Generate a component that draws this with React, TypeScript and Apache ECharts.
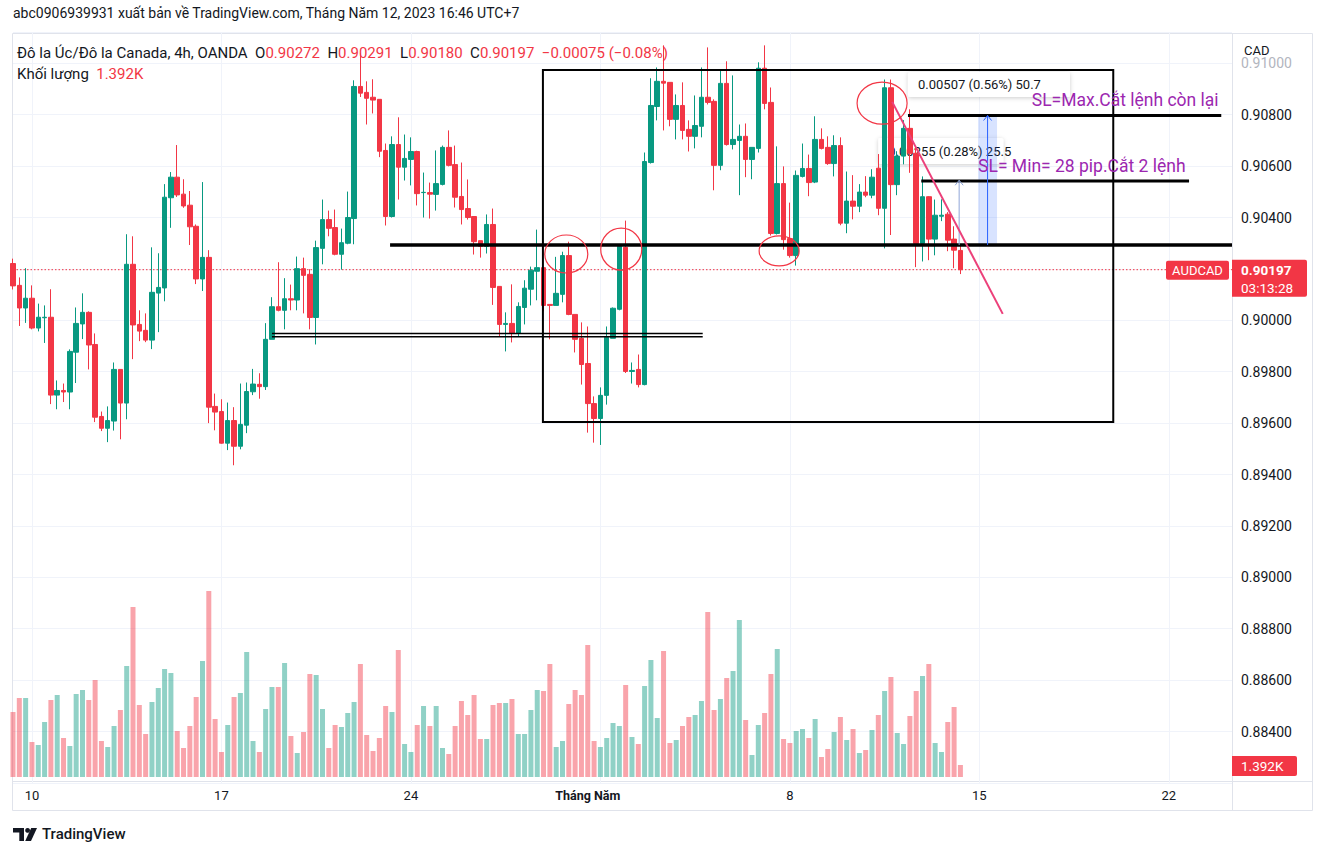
import React, { useEffect, useRef } from "react";
import * as echarts from "echarts";

// ---------- DATA ----------
const candleOpen = [
  0.90221, 0.90136, 0.90048, 0.90086, 0.8997, 0.9001, 0.90012, 0.89709, 0.89727, 0.89721,
  0.89876, 0.89986, 0.90031, 0.89906, 0.89626, 0.8958, 0.89608, 0.89809, 0.89678, 0.90218,
  0.89984, 0.89961, 0.89923, 0.90106, 0.90126, 0.90477, 0.90557, 0.90491, 0.90448, 0.90366,
  0.90161, 0.90245, 0.89665, 0.89645, 0.89522, 0.8961, 0.8951, 0.89592, 0.89722, 0.89751,
  0.89742, 0.89926, 0.90053, 0.90039, 0.90084, 0.90079, 0.90201, 0.90179, 0.90011, 0.9028,
  0.90392, 0.90361, 0.90257, 0.903, 0.90396, 0.9091, 0.90887, 0.90868, 0.9086, 0.90661,
  0.90404, 0.90684, 0.90596, 0.90626, 0.90657, 0.90497, 0.90497, 0.9049, 0.90529, 0.90673,
  0.90606, 0.90482, 0.90435, 0.90404, 0.9031, 0.90288, 0.90373, 0.90132, 0.89984, 0.89988,
  0.89949, 0.9005, 0.90121, 0.90191, 0.90205, 0.90062, 0.90058, 0.90101, 0.90252, 0.90023,
  0.8993, 0.89832, 0.89676, 0.89618, 0.89708, 0.8993, 0.90043, 0.90284, 0.89801, 0.89809,
  0.8975, 0.90614, 0.90832, 0.9093, 0.90926, 0.90782, 0.90836, 0.90743, 0.90716, 0.90755,
  0.90868, 0.90852, 0.90603, 0.90922, 0.90684, 0.907, 0.90716, 0.90626, 0.90669, 0.90981,
  0.90848, 0.90338, 0.90532, 0.90318, 0.90252, 0.9056, 0.90591, 0.90538, 0.90704, 0.90673,
  0.9061, 0.9068, 0.90378, 0.90464, 0.90444, 0.90499, 0.90487, 0.90592, 0.90436, 0.90905,
  0.90528, 0.90639, 0.90747, 0.9065, 0.90299, 0.90481, 0.90316, 0.90405, 0.90413, 0.90316, 0.90272,
];
const candleClose = [
  0.90134, 0.90048, 0.90086, 0.8997, 0.90012, 0.90012, 0.89709, 0.89727, 0.89721, 0.89879,
  0.89988, 0.90031, 0.89904, 0.89623, 0.8958, 0.8961, 0.89809, 0.89678, 0.90218, 0.89982,
  0.89958, 0.89923, 0.90109, 0.90128, 0.90479, 0.90557, 0.90488, 0.90445, 0.90364, 0.90161,
  0.90245, 0.89662, 0.89643, 0.89522, 0.8961, 0.8951, 0.89595, 0.89723, 0.89752, 0.89742,
  0.89926, 0.90053, 0.90039, 0.90084, 0.90079, 0.90201, 0.90175, 0.90011, 0.90283, 0.90392,
  0.90358, 0.90257, 0.90302, 0.904, 0.9091, 0.90884, 0.90864, 0.90857, 0.90658, 0.90404,
  0.90684, 0.90596, 0.9063, 0.90657, 0.90493, 0.90498, 0.90491, 0.90532, 0.90673, 0.90603,
  0.90479, 0.90431, 0.904, 0.90306, 0.90288, 0.90373, 0.90128, 0.89984, 0.89988, 0.89949,
  0.90054, 0.90125, 0.90195, 0.90205, 0.90058, 0.90058, 0.90105, 0.90252, 0.90023, 0.89926,
  0.89828, 0.89676, 0.89618, 0.89708, 0.89934, 0.90047, 0.90288, 0.89801, 0.89805, 0.8975,
  0.90618, 0.90836, 0.9093, 0.90923, 0.90782, 0.90836, 0.90739, 0.90716, 0.90758, 0.90868,
  0.90848, 0.90603, 0.90922, 0.90684, 0.90704, 0.90716, 0.90626, 0.90673, 0.90981, 0.90844,
  0.90338, 0.90532, 0.90314, 0.90252, 0.90564, 0.90591, 0.90536, 0.90704, 0.90669, 0.9061,
  0.9068, 0.90378, 0.90464, 0.90444, 0.90499, 0.90487, 0.90557, 0.90436, 0.90905, 0.90528,
  0.90639, 0.90747, 0.9065, 0.90299, 0.90481, 0.90316, 0.90409, 0.90409, 0.90312, 0.90273, 0.90197,
];
const candleLow = [
  0.9012, 0.89978, 0.8999, 0.89965, 0.89957, 0.89912, 0.89674, 0.89654, 0.89682, 0.89654,
  0.89756, 0.89927, 0.89809, 0.89604, 0.89569, 0.89526, 0.89571, 0.89537, 0.89615, 0.89849,
  0.89919, 0.89915, 0.89888, 0.89954, 0.90074, 0.9036, 0.9048, 0.90438, 0.90293, 0.90141,
  0.90114, 0.896, 0.89572, 0.8952, 0.89495, 0.89436, 0.89498, 0.89561, 0.89709, 0.89695,
  0.89729, 0.89926, 0.90035, 0.89965, 0.90039, 0.90039, 0.90027, 0.89965, 0.89906, 0.90218,
  0.90327, 0.90253, 0.90197, 0.90296, 0.90296, 0.90869, 0.90762, 0.90805, 0.90635, 0.90369,
  0.904, 0.9047, 0.90544, 0.90525, 0.90447, 0.904, 0.90396, 0.90427, 0.90525, 0.90599,
  0.90439, 0.90373, 0.90392, 0.90256, 0.90244, 0.9026, 0.9006, 0.89937, 0.89879, 0.89914,
  0.89937, 0.89984, 0.90058, 0.90078, 0.90035, 0.89926, 0.90058, 0.9007, 0.9002, 0.89875,
  0.8975, 0.89563, 0.89524, 0.89515, 0.89672, 0.8993, 0.90039, 0.89795, 0.89754, 0.89739,
  0.89747, 0.9061, 0.90778, 0.90739, 0.90755, 0.90704, 0.90704, 0.90657, 0.90669, 0.90712,
  0.9084, 0.90506, 0.90584, 0.9068, 0.90665, 0.90487, 0.90557, 0.90549, 0.90653, 0.90821,
  0.9033, 0.90334, 0.90275, 0.90244, 0.90213, 0.90556, 0.90483, 0.90534, 0.90665, 0.90605,
  0.9056, 0.9037, 0.90339, 0.90393, 0.90421, 0.90479, 0.90475, 0.90409, 0.9028, 0.90332,
  0.90487, 0.90607, 0.90574, 0.90207, 0.90229, 0.90234, 0.90253, 0.90386, 0.90269, 0.90203, 0.9018,
];
const candleHigh = [
  0.9024, 0.90167, 0.90203, 0.90136, 0.90065, 0.90058, 0.90121, 0.89766, 0.89754, 0.89887,
  0.9005, 0.90105, 0.90035, 0.89949, 0.89645, 0.89665, 0.89836, 0.89809, 0.90335, 0.90327,
  0.90039, 0.90027, 0.90284, 0.90261, 0.9053, 0.90577, 0.90682, 0.90549, 0.90503, 0.90373,
  0.90538, 0.90273, 0.89715, 0.89693, 0.8968, 0.89662, 0.89754, 0.89758, 0.89811, 0.89794,
  0.89989, 0.9009, 0.90226, 0.90164, 0.90139, 0.90248, 0.90244, 0.90199, 0.9031, 0.9047,
  0.90427, 0.90431, 0.90357, 0.90501, 0.90934, 0.91039, 0.9093, 0.90938, 0.9086, 0.90688,
  0.90716, 0.9079, 0.90723, 0.90712, 0.9066, 0.90575, 0.90536, 0.90661, 0.9068, 0.90739,
  0.9068, 0.90614, 0.90548, 0.90404, 0.9031, 0.90412, 0.90435, 0.90132, 0.90031, 0.9014,
  0.9007, 0.90156, 0.90209, 0.90353, 0.90205, 0.90062, 0.90247, 0.90267, 0.90306, 0.90023,
  0.89992, 0.89976, 0.89704, 0.89739, 0.89976, 0.9005, 0.90296, 0.90388, 0.89836, 0.89867,
  0.90653, 0.90942, 0.90984, 0.9107, 0.90926, 0.90879, 0.90926, 0.90778, 0.90875, 0.90984,
  0.91062, 0.9086, 0.90973, 0.91008, 0.90953, 0.90762, 0.90766, 0.90673, 0.91004, 0.9107,
  0.90906, 0.90677, 0.90599, 0.90458, 0.90583, 0.90688, 0.90645, 0.90794, 0.90747, 0.90716,
  0.9072, 0.90712, 0.90579, 0.90565, 0.9053, 0.90561, 0.90588, 0.90647, 0.90937, 0.90937,
  0.90658, 0.90779, 0.90821, 0.90672, 0.9056, 0.90483, 0.9047, 0.90471, 0.90421, 0.90366, 0.90291,
];
const volumes = [
  7540, 9164, 9164, 4060, 3712, 6380, 8932, 9512, 4524, 3596,
  9628, 10092, 8932, 11252, 4176, 3480, 5916, 7772, 12876, 19720,
  8352, 4988, 8700, 10324, 12528, 12064, 5336, 3364, 5916, 9280,
  13456, 21576, 6728, 2900, 6032, 9280, 9744, 14500, 4176, 2900,
  7888, 10440, 10440, 13224, 4756, 2784, 5220, 11948, 11832, 7888,
  3364, 6032, 5800, 7424, 8700, 13108, 4872, 3016, 4524, 8236,
  7540, 14732, 3828, 2900, 6032, 8236, 5916, 8236, 3364, 2668,
  5916, 8816, 7192, 9512, 4408, 4408, 8352, 8584, 8584, 9048,
  4988, 4988, 7772, 10092, 9976, 13108, 3480, 4176, 8468, 10092,
  9512, 15312, 4176, 3480, 4524, 6264, 5916, 10672, 4640, 3828,
  10556, 13572, 6844, 14616, 3944, 4292, 5916, 6960, 7192, 8816,
  19140, 7772, 9048, 11484, 12296, 18212, 6612, 2552, 6032, 7424,
  11948, 14848, 4408, 3944, 5336, 5568, 4524, 6728, 2320, 3248,
  5220, 6960, 4292, 5568, 2784, 3132, 5452, 7192, 9976, 11600,
  5104, 3828, 7076, 9976, 11716, 13108, 3944, 2900, 6380, 8120, 1392,
];

const SLOT_COUNT = 194; // candles + empty future slots
const timeLabelIndex = [3, 33, 63, 91, 123, 153, 183];
const timeLabelText = ["10", "17", "24", "Tháng Năm", "8", "15", "22"];
const dayLineIndex = [3, 33, 63, 93, 123, 153, 183];

const priceMin = 0.882;
const priceMax = 0.9112;
const priceStep = 0.002;
const volumeMax = 23200;
const volumeLabel = "1.392K";
const countdown = "03:13:28";

// drawings (index, price)
const supportLevel = { price: 0.90293, from: 59.7, to: 193 };
const doubleLevels = { prices: [0.89949, 0.89936], from: 41, to: 109.2 };
const slMaxLevel = { price: 0.90797, from: 141.7, to: 191.3 };
const slMinLevel = { price: 0.90542, from: 143.8, to: 186.2 };
const rangeBox = { from: 83.9, to: 174.2, top: 0.90974, bottom: 0.89604 };
const trendLine = { from: [139.2, 0.9085], to: [156.7, 0.90025] };
const bigMeasure = { from: 152.8, to: 155.8, low: 0.90293, high: 0.90797 };
const smallMeasure = { at: 149.8, low: 0.90293, high: 0.90545 };
const circleMarks = [
  { i: 87.6, p: 0.90258, rx: 21.5, ry: 19 },
  { i: 96.3, p: 0.90277, rx: 20.5, ry: 21 },
  { i: 121.3, p: 0.9027, rx: 20, ry: 15 },
  { i: 137.6, p: 0.90845, rx: 25, ry: 21 },
];
const measureBoxes = [
  { i: 141.7, p: 0.90966, w: 162, h: 25, text: "0.00507 (0.56%) 50.7", z: 20 },
  { i: 137.0, p: 0.90709, w: 125, h: 26, text: "0.00255 (0.28%) 25.5", z: 1 },
];
const purpleNotes = [
  { i: 161.3, p: 0.90858, text: "SL=Max.Cắt lệnh còn lại" },
  { i: 152.8, p: 0.906, text: "SL= Min= 28 pip.Cắt 2 lệnh" },
];

// ---------- LAYOUT ----------
const LEFT = 13;
const RIGHT_X = 1232;
const TOP = 32.5;
const BOTTOM_Y = 782.9;
const FONT = "Roboto, 'Noto Sans', sans-serif";
const UP = "#089981";
const DOWN = "#f23645";

const X = (i: number) => LEFT + (i * (RIGHT_X - LEFT)) / (SLOT_COUNT - 1);
const Y = (p: number) => TOP + ((priceMax - p) / (priceMax - priceMin)) * (BOTTOM_Y - TOP);

export default function App() {
  const ref = useRef<HTMLDivElement>(null);

  useEffect(() => {
    if (!ref.current) return;
    const chart = echarts.init(ref.current, undefined, { renderer: "svg" });

    const categories = Array.from({ length: SLOT_COUNT }, (_, i) => {
      const k = timeLabelIndex.indexOf(i);
      return k >= 0 ? timeLabelText[k] : "";
    });
    const candles = candleOpen.map((o, i) => [o, candleClose[i], candleLow[i], candleHigh[i]]);
    const volData = volumes.map((v, i) => ({
      value: v,
      itemStyle: {
        color: candleClose[i] >= candleOpen[i] ? "rgba(8,153,129,0.45)" : "rgba(242,54,69,0.45)",
      },
    }));
    const last = candleOpen.length - 1;
    const lastClose = candleClose[last];
    const chg = candleClose[last] - candleOpen[last];
    const pct = (chg / candleOpen[last]) * 100;
    const minus = (s: string) => s.replace("-", "\u2212");

    const txt = (x: number, y: number, text: string, extra: any = {}, z = 20) => ({
      type: "text",
      x,
      y,
      z,
      silent: true,
      style: {
        text,
        fill: "#131722",
        fontSize: 14,
        fontFamily: FONT,
        verticalAlign: "middle",
        align: "left",
        ...extra,
      },
    });
    const ln = (x1: number, y1: number, x2: number, y2: number, stroke: string, lineWidth: number, z = 20, extra: any = {}) => ({
      type: "line",
      z,
      silent: true,
      shape: { x1, y1, x2, y2 },
      style: { stroke, lineWidth, ...extra },
    });

    const graphics: any[] = [];
    // header
    graphics.push(
      txt(13, 13, "abc0906939931 xuất bản về TradingView.com, Tháng Năm 12, 2023 16:46 UTC+7", { fontSize: 14 })
    );
    // panel frame
    graphics.push({
      type: "rect",
      z: 0,
      silent: true,
      shape: { x: 12.5, y: 33.5, width: 1300, height: 777 },
      style: { fill: null, stroke: "#e0e3eb", lineWidth: 1 },
    });
    graphics.push(ln(1232.5, 33.5, 1232.5, 810.5, "#e0e3eb", 1, 0));
    graphics.push(ln(12.5, 781.5, 1312.5, 781.5, "#e0e3eb", 1, 0));

    // current price dotted line
    graphics.push(ln(LEFT, Y(lastClose), RIGHT_X, Y(lastClose), DOWN, 1, 2, { lineDash: [1.5, 2] }));

    // legend
    const r = (s: string) => `{r|${s}}`;
    const d = (s: string) => `{d|${s}}`;
    const LF = 15;
    graphics.push({
      type: "text",
      x: 17,
      y: 53,
      z: 30,
      silent: true,
      style: {
        text:
          d("Đô la Úc/Đô la Canada, 4h, OANDA") +
          "  " +
          d("O") + r(candleOpen[last].toFixed(5)) + "  " +
          d("H") + r(candleHigh[last].toFixed(5)) + "  " +
          d("L") + r(candleLow[last].toFixed(5)) + "  " +
          d("C") + r(lastClose.toFixed(5)) + "  " +
          r(minus(chg.toFixed(5)) + " (" + minus(pct.toFixed(2)) + "%)"),
        fontSize: LF,
        fontFamily: FONT,
        fill: "#131722",
        verticalAlign: "middle",
        rich: {
          d: { fill: "#131722", color: "#131722", fontSize: LF, fontFamily: FONT },
          r: { fill: DOWN, color: DOWN, fontSize: LF, fontFamily: FONT },
        },
      },
    });
    graphics.push({
      type: "text",
      x: 17,
      y: 74,
      z: 30,
      silent: true,
      style: {
        text: d("Khối lượng") + "  " + r(volumeLabel),
        fontSize: LF,
        fontFamily: FONT,
        verticalAlign: "middle",
        rich: {
          d: { fill: "#131722", color: "#131722", fontSize: LF, fontFamily: FONT },
          r: { fill: DOWN, color: DOWN, fontSize: LF, fontFamily: FONT },
        },
      },
    });
    // CAD
    graphics.push(txt(1244, 50, "CAD", { fontSize: 13 }));

    // drawings
    const rb = rangeBox;
    graphics.push({
      type: "rect",
      z: 20,
      silent: true,
      shape: { x: X(rb.from), y: Y(rb.top), width: X(rb.to) - X(rb.from), height: Y(rb.bottom) - Y(rb.top) },
      style: { fill: null, stroke: "#000000", lineWidth: 2 },
    });
    graphics.push(ln(X(supportLevel.from), Y(supportLevel.price), X(supportLevel.to), Y(supportLevel.price), "#000", 3.5));
    doubleLevels.prices.forEach((p) =>
      graphics.push(ln(X(doubleLevels.from), Y(p), X(doubleLevels.to), Y(p), "#000", 1.6))
    );
    graphics.push(ln(X(slMaxLevel.from), Y(slMaxLevel.price), X(slMaxLevel.to), Y(slMaxLevel.price), "#000", 3));
    graphics.push(ln(X(slMinLevel.from), Y(slMinLevel.price), X(slMinLevel.to), Y(slMinLevel.price), "#000", 3));

    // big measure
    const bx1 = X(bigMeasure.from);
    const bx2 = X(bigMeasure.to);
    const bmx = (bx1 + bx2) / 2;
    graphics.push({
      type: "rect",
      z: 15,
      silent: true,
      shape: { x: bx1, y: Y(bigMeasure.high), width: bx2 - bx1, height: Y(bigMeasure.low) - Y(bigMeasure.high) },
      style: { fill: "rgba(41,98,255,0.18)" },
    });
    graphics.push(ln(bmx, Y(bigMeasure.low), bmx, Y(bigMeasure.high), "#2962ff", 1));
    graphics.push({
      type: "polyline",
      z: 20,
      silent: true,
      shape: { points: [[bmx - 4, Y(bigMeasure.high) + 5], [bmx, Y(bigMeasure.high)], [bmx + 4, Y(bigMeasure.high) + 5]] },
      style: { stroke: "#2962ff", lineWidth: 1, fill: null },
    });
    // small measure
    const smx = X(smallMeasure.at);
    graphics.push(ln(smx, Y(smallMeasure.low), smx, Y(smallMeasure.high), "#8fa6d8", 1));
    graphics.push({
      type: "polyline",
      z: 20,
      silent: true,
      shape: { points: [[smx - 4, Y(smallMeasure.high) + 5], [smx, Y(smallMeasure.high)], [smx + 4, Y(smallMeasure.high) + 5]] },
      style: { stroke: "#8fa6d8", lineWidth: 1, fill: null },
    });

    // measure label boxes
    measureBoxes.forEach((b) => {
      graphics.push({
        type: "rect",
        z: b.z,
        silent: true,
        shape: { x: X(b.i), y: Y(b.p), width: b.w, height: b.h, r: 2 },
        style: { fill: "#ffffff", shadowBlur: 4, shadowColor: "rgba(0,0,0,0.2)", shadowOffsetY: 1 },
      });
      graphics.push(txt(X(b.i) + 10, Y(b.p) + b.h / 2, b.text, { fontSize: 13 }, b.z));
    });

    // trend line
    graphics.push(
      ln(X(trendLine.from[0]), Y(trendLine.from[1]), X(trendLine.to[0]), Y(trendLine.to[1]), "#ec407a", 2)
    );
    // circles
    circleMarks.forEach((c) =>
      graphics.push({
        type: "ellipse",
        z: 25,
        silent: true,
        shape: { cx: X(c.i), cy: Y(c.p), rx: c.rx, ry: c.ry },
        style: { fill: null, stroke: "#f23645", lineWidth: 1.2 },
      })
    );
    // purple notes
    purpleNotes.forEach((n) => graphics.push(txt(X(n.i), Y(n.p), n.text, { fill: "#9c27b0", fontSize: 17.5 }, 30)));

    // price labels on the axis
    const ly = Y(lastClose);
    graphics.push({
      type: "rect",
      z: 40,
      silent: true,
      shape: { x: 1232, y: ly - 10, width: 75, height: 37, r: [0, 2, 2, 0] },
      style: { fill: DOWN },
    });
    graphics.push(txt(1241, ly, lastClose.toFixed(5), { fill: "#fff", fontSize: 13.5, fontWeight: "bold" }, 41));
    graphics.push(txt(1241, ly + 18, countdown, { fill: "#fff", fontSize: 13.5 }, 41));
    graphics.push({
      type: "rect",
      z: 40,
      silent: true,
      shape: { x: 1166, y: ly - 9, width: 63, height: 19, r: 2 },
      style: { fill: DOWN },
    });
    graphics.push(txt(1197.5, ly + 0.5, "AUDCAD", { fill: "#fff", fontSize: 13, align: "center" }, 41));
    graphics.push({
      type: "rect",
      z: 40,
      silent: true,
      shape: { x: 1232, y: 756, width: 65, height: 20, r: [0, 2, 2, 0] },
      style: { fill: DOWN },
    });
    graphics.push(txt(1241, 766, volumeLabel, { fill: "#fff", fontSize: 13.5 }, 41));

    // TradingView logo
    graphics.push({
      type: "polygon",
      z: 10,
      silent: true,
      shape: { points: [[13, 828], [24, 828], [24, 841], [19.3, 841], [19.3, 832.6], [13, 832.6]] },
      style: { fill: "#131722" },
    });
    graphics.push({ type: "circle", z: 10, silent: true, shape: { cx: 27.6, cy: 830.4, r: 2.4 }, style: { fill: "#131722" } });
    graphics.push({
      type: "polygon",
      z: 10,
      silent: true,
      shape: { points: [[25.2, 841], [31.2, 828], [37, 828], [31, 841]] },
      style: { fill: "#131722" },
    });
    graphics.push(txt(42, 834, "TradingView", { fontSize: 15, fontWeight: 500 }, 10));

    chart.setOption({
      animation: false,
      backgroundColor: "#ffffff",
      grid: [
        { left: LEFT, top: TOP, width: RIGHT_X - LEFT, height: BOTTOM_Y - TOP },
        { left: LEFT, top: 577, width: RIGHT_X - LEFT, height: 200 },
      ],
      xAxis: [
        {
          type: "category",
          gridIndex: 0,
          data: categories,
          boundaryGap: false,
          axisLine: { show: false },
          axisTick: { show: false },
          axisLabel: {
            interval: (i: number) => timeLabelIndex.includes(i),
            color: "#131722",
            fontSize: 13,
            fontFamily: FONT,
            margin: 6,
            formatter: (v: string) => (v === "Tháng Năm" ? "{b|" + v + "}" : v),
            rich: { b: { fontWeight: "bold", fontSize: 12.5, fontFamily: FONT, color: "#131722" } },
          },
          splitLine: {
            show: true,
            interval: (i: number) => dayLineIndex.includes(i),
            lineStyle: { color: "#f0f3fa", width: 1 },
          },
        },
        {
          type: "category",
          gridIndex: 1,
          data: categories,
          boundaryGap: false,
          show: false,
        },
      ],
      yAxis: [
        {
          type: "value",
          gridIndex: 0,
          position: "right",
          min: priceMin,
          max: priceMax,
          interval: priceStep,
          axisLine: { show: false },
          axisTick: { show: false },
          splitLine: { lineStyle: { color: "#f0f3fa", width: 1 } },
          axisLabel: {
            margin: 9,
            color: "#131722",
            fontSize: 14,
            fontFamily: FONT,
            formatter: (v: number) => {
              const k = v / priceStep;
              if (Math.abs(k - Math.round(k)) > 0.01 || v < priceMin + 0.001) return "";
              if (v > 0.9095) return "{l|" + v.toFixed(5) + "}";
              return v.toFixed(5);
            },
            rich: { l: { color: "#b2b5be", fontSize: 14, fontFamily: FONT } },
          },
        },
        { type: "value", gridIndex: 1, min: 0, max: volumeMax, show: false },
      ],
      series: [
        {
          type: "bar",
          xAxisIndex: 1,
          yAxisIndex: 1,
          data: volData,
          barWidth: 5,
          z: 1,
          silent: true,
        },
        {
          type: "candlestick",
          xAxisIndex: 0,
          yAxisIndex: 0,
          data: candles,
          barWidth: 5,
          z: 3,
          silent: true,
          itemStyle: { color: UP, color0: DOWN, borderColor: UP, borderColor0: DOWN, borderWidth: 1 },
        },
      ],
      graphic: graphics,
    });

    return () => chart.dispose();
  }, []);

  return (
    <div
      ref={ref}
      style={{ position: "fixed", left: 0, top: 0, width: 1325, height: 856, background: "#fff" }}
    />
  );
}
